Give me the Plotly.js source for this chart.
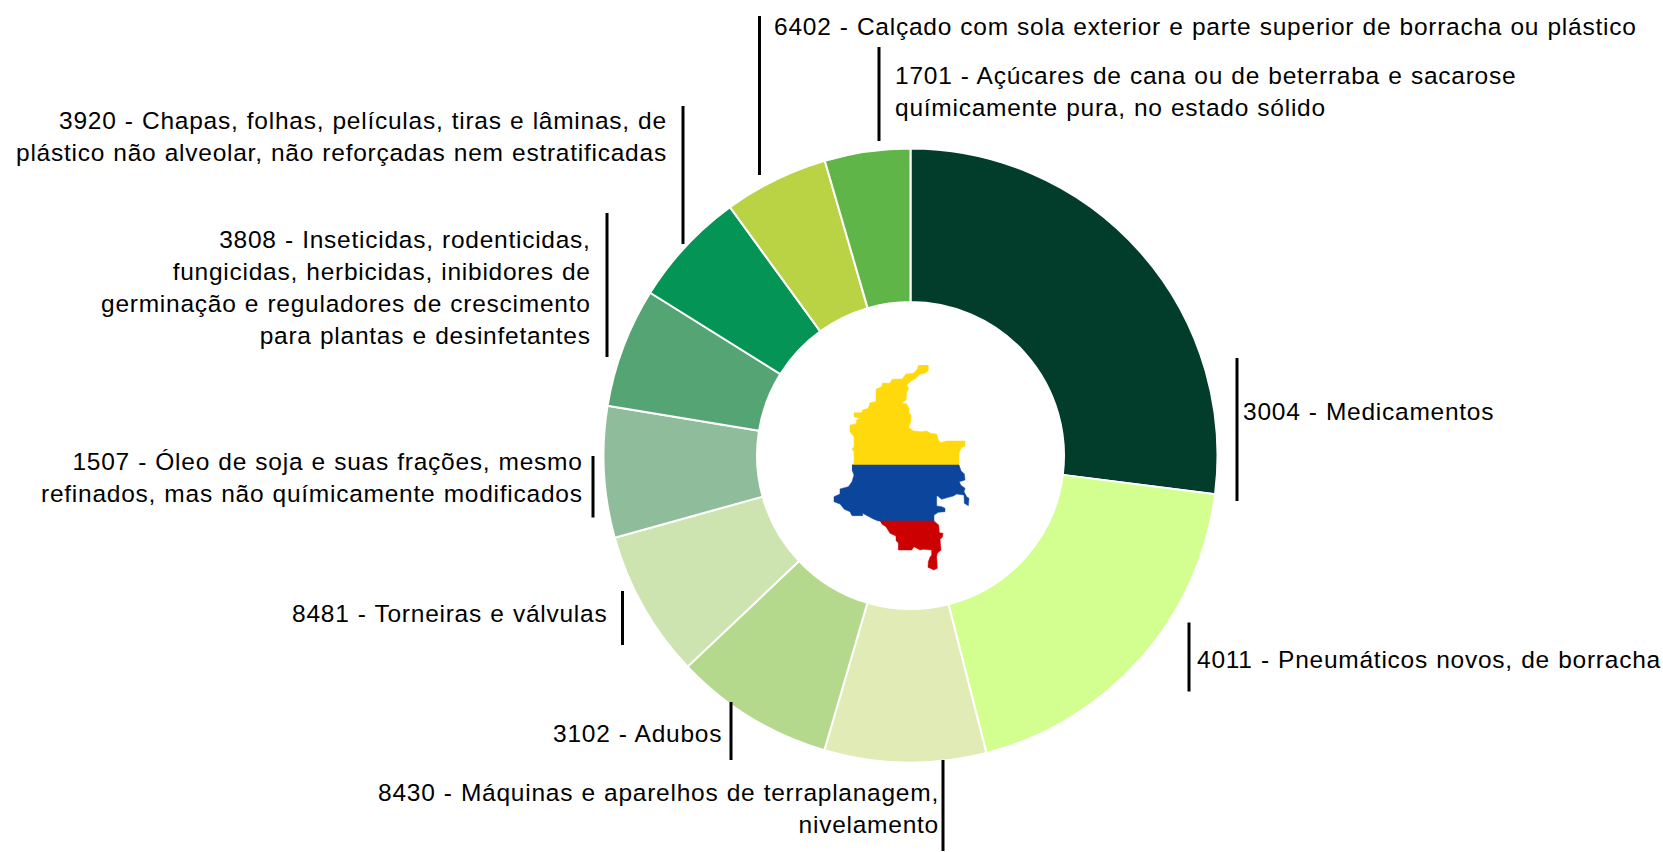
<!DOCTYPE html>
<html><head><meta charset="utf-8">
<script src="https://cdn.plot.ly/plotly-3.0.1.min.js"></script>
<style>html,body{margin:0;padding:0;background:#fff}
.annotation-text{word-spacing:0.7px;letter-spacing:0.75px}</style></head>
<body><div id="chart" style="width:1663px;height:852px"></div>
<script>
const categories = ["3004 - Medicamentos","4011 - Pneumáticos novos, de borracha","8430 - Máquinas e aparelhos de terraplanagem, nivelamento","3102 - Adubos","8481 - Torneiras e válvulas","1507 - Óleo de soja e suas frações, mesmo refinados, mas não químicamente modificados","3808 - Inseticidas, rodenticidas, fungicidas, herbicidas, inibidores de germinação e reguladores de crescimento para plantas e desinfetantes","3920 - Chapas, folhas, películas, tiras e lâminas, de plástico não alveolar, não reforçadas nem estratificadas","6402 - Calçado com sola exterior e parte superior de borracha ou plástico","1701 - Açúcares de cana ou de beterraba e sacarose químicamente pura, no estado sólido"];
const values = [27.0,19.0,8.5,8.4,7.75,6.9,6.3,6.1,5.5,4.5];
const colors = ["#023D2C","#D2FF90","#E0EBB5","#B5D98C","#CDE4B0","#8FBC9A","#55A474","#049455","#B9D344","#60B548"];

const labelLines = [
 ["3004 - Medicamentos"],
 ["4011 - Pneumáticos novos, de borracha"],
 ["8430 - Máquinas e aparelhos de terraplanagem,","nivelamento"],
 ["3102 - Adubos"],
 ["8481 - Torneiras e válvulas"],
 ["1507 - Óleo de soja e suas frações, mesmo","refinados, mas não químicamente modificados"],
 ["3808 - Inseticidas, rodenticidas,","fungicidas, herbicidas, inibidores de","germinação e reguladores de crescimento","para plantas e desinfetantes"],
 ["3920 - Chapas, folhas, películas, tiras e lâminas, de","plástico não alveolar, não reforçadas nem estratificadas"],
 ["6402 - Calçado com sola exterior e parte superior de borracha ou plástico"],
 ["1701 - Açúcares de cana ou de beterraba e sacarose","químicamente pura, no estado sólido"]
];
const labelX = [1241,1195,941,724,609,585,593,669,772,893];
const labelY = [411,659,808,733,613,477,287,136,26,91];
const labelAnchor = ["left","left","right","right","right","right","right","right","left","left"];

const leaderX = [1237,1189,943,731,622.5,593,607,683,759.5,879];
const leaderY0 = [358,622.5,760,702,591,456,213,106,16,47];
const leaderY1 = [501,691.5,851,760,645,517.5,357,244,175,141];

// Colombia silhouette (map box units)
const yellowX=[355,355,345,330,318,305,290,296,290,288,275,290,297,297,303,302,296,310,335,350,362,380,385,392,410,465,465,455,447,447,126,132,132,126,132,132,120,120,138,140,150,132,132,155,158,175,180,198,198,215,218,240,246,276,288,310,324,324];
const yellowY=[45,62,70,72,85,92,105,115,128,150,160,162,175,188,195,215,232,243,245,243,250,252,270,278,273,273,288,292,310,345,345,340,305,298,290,260,245,225,222,210,205,200,188,188,180,175,158,155,118,110,99,100,88,87,72,70,55,46];
const blueX=[126,447,453,463,465,448,452,465,462,470,477,477,475,463,462,440,430,415,395,382,380,380,395,405,405,385,372,372,205,190,170,158,158,126,120,103,90,72,72,90,90,115,126,132,126];
const blueY=[345,345,362,372,390,395,405,415,425,440,445,458,467,460,435,432,438,442,448,437,440,468,470,475,485,487,495,513,513,507,497,490,497,497,485,478,462,455,440,432,417,410,395,375,360];
const redX=[210,372,386,388,399,397,390,393,382,380,382,372,354,355,360,365,365,340,330,312,305,265,265,258,258,240,228,215];
const redY=[513,513,525,548,550,562,568,600,610,620,655,660,652,635,622,615,600,598,600,590,600,600,578,572,558,550,530,522];

const W=1663,H=852, cx=910.5, cy=455.5, R=307;
const traces=[{
  type:'pie',values:values,labels:categories,sort:false,direction:'clockwise',rotation:0,hole:0.5,
  marker:{colors:colors,line:{color:'#fff',width:2}},textinfo:'none',hoverinfo:'label+percent',showlegend:false,
  domain:{x:[(cx-R)/W,(cx+R)/W],y:[1-(cy+R)/H,1-(cy-R)/H]}
}];
function poly(x,y,c){return {type:'scatter',mode:'lines',x:x,y:y,fill:'toself',fillcolor:c,line:{color:c,width:0.5},xaxis:'x2',yaxis:'y2',hoverinfo:'skip',showlegend:false};}
traces.push(poly(yellowX,yellowY,'#FFD90C'),poly(blueX,blueY,'#0C469C'),poly(redX,redY,'#CC0000'));

const shapes=leaderX.map((x,i)=>({type:'line',xref:'x',yref:'y',x0:x,x1:x,y0:leaderY0[i],y1:leaderY1[i],line:{color:'#000',width:3}}));
const annotations=labelLines.map((l,i)=>({xref:'x',yref:'y',x:labelX[i],y:labelY[i],text:l.join('<br>'),showarrow:false,
  xanchor:labelAnchor[i],yanchor:'middle',align:labelAnchor[i],font:{family:'"Liberation Sans",Arial,sans-serif',size:24.5,color:'#000'}}));

const hidden={visible:false,fixedrange:true};
Plotly.newPlot('chart',traces,{
  width:W,height:H,margin:{l:0,r:0,t:0,b:0},paper_bgcolor:'#fff',plot_bgcolor:'rgba(0,0,0,0)',showlegend:false,
  xaxis:Object.assign({range:[0,W],domain:[0,1]},hidden),
  yaxis:Object.assign({range:[H,0],domain:[0,1]},hidden),
  xaxis2:Object.assign({range:[0,540],domain:[810/W,990/W],anchor:'y2'},hidden),
  yaxis2:Object.assign({range:[690,0],domain:[1-580/H,1-350/H],anchor:'x2'},hidden),
  shapes:shapes,annotations:annotations
},{displayModeBar:false});
</script></body></html>
